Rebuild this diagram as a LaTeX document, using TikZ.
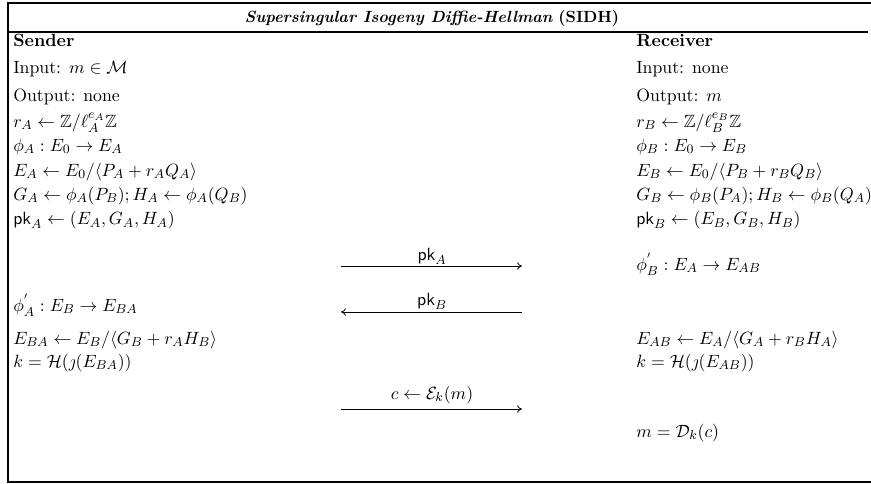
\documentclass[11pt,tikz,border=0pt]{standalone}
\usepackage{amsmath,amssymb}
\usetikzlibrary{arrows.meta,calc}

\begin{document}
\begin{tikzpicture}[x=0.617pt,y=-0.617pt, every node/.style={inner sep=0pt},
    msg/.style={-{To[length=3pt,width=4.5pt]},line width=0.5pt}]
  \newcommand{\sndrow}[3]{\node[anchor=base west] (#1) at (13,#2) {#3};}
  \newcommand{\rcvrow}[3]{\node[anchor=base west] (#1) at (636,#2) {#3};}
  \useasboundingbox (0,0) rectangle (871,483);
  \draw[line width=1.2pt] (875,3) -- (8,3) -- (8,482) -- (875,482);
  \draw[line width=1.2pt] (8,32) -- (868,32);
  \node[anchor=base,font=\small] (title) at (432,22) {\textbf{\textit{Supersingular Isogeny Diffie-Hellman}} \textbf{(SIDH)}};

  \sndrow{snd}{46}{\textbf{Sender}}
  \sndrow{sin}{73}{Input: $m\in\mathcal{M}$}
  \sndrow{sout}{101}{Output: none}
  \sndrow{rA}{127}{$r_A\leftarrow\mathbb{Z}/\ell_A^{e_A}\mathbb{Z}$}
  \sndrow{phiA}{151}{$\phi_A:E_0\rightarrow E_A$}
  \sndrow{EA}{176}{$E_A\leftarrow E_0/\langle P_A+r_AQ_A\rangle$}
  \sndrow{GA}{200}{$G_A\leftarrow\phi_A(P_B);H_A\leftarrow\phi_A(Q_B)$}
  \sndrow{pkA}{224.5}{$\mathsf{pk}_A\leftarrow(E_A,G_A,H_A)$}
  \sndrow{phiAp}{311}{$\phi_A^{'}:E_B\rightarrow E_{BA}$}
  \sndrow{EBA}{344}{$E_{BA}\leftarrow E_B/\langle G_B+r_AH_B\rangle$}
  \sndrow{kA}{367}{$k=\mathcal{H}(\jmath(E_{BA}))$}

  \rcvrow{rcv}{46}{\textbf{Receiver}}
  \rcvrow{rin}{73}{Input: none}
  \rcvrow{rout}{101}{Output: $m$}
  \rcvrow{rB}{127}{$r_B\leftarrow\mathbb{Z}/\ell_B^{e_B}\mathbb{Z}$}
  \rcvrow{phiB}{151}{$\phi_B:E_0\rightarrow E_B$}
  \rcvrow{EB}{176}{$E_B\leftarrow E_0/\langle P_B+r_BQ_B\rangle$}
  \rcvrow{GB}{200}{$G_B\leftarrow\phi_B(P_A);H_B\leftarrow\phi_B(Q_A)$}
  \rcvrow{pkB}{224.5}{$\mathsf{pk}_B\leftarrow(E_B,G_B,H_B)$}
  \rcvrow{phiBp}{270}{$\phi_B^{'}:E_A\rightarrow E_{AB}$}
  \rcvrow{EAB}{344}{$E_{AB}\leftarrow E_A/\langle G_A+r_BH_A\rangle$}
  \rcvrow{kB}{367}{$k=\mathcal{H}(\jmath(E_{AB}))$}
  \rcvrow{dec}{437}{$m=\mathcal{D}_k(c)$}

  \coordinate (m1l) at (341,266);
  \coordinate (m1r) at (522,266);
  \coordinate (m2l) at (341,312);
  \coordinate (m2r) at (522,312);
  \coordinate (m3l) at (341,409);
  \coordinate (m3r) at (522,409);
  \node[anchor=base] (lpkA) at (432,260) {$\mathsf{pk}_A$};
  \node[anchor=base] (lpkB) at (432,305) {$\mathsf{pk}_B$};
  \node[anchor=base] (lc) at (432,399) {$c\leftarrow\mathcal{E}_k(m)$};
  \draw[msg] (m1l) -- (m1r);
  \draw[msg] (m2r) -- (m2l);
  \draw[msg] (m3l) -- (m3r);
\end{tikzpicture}
\end{document}
